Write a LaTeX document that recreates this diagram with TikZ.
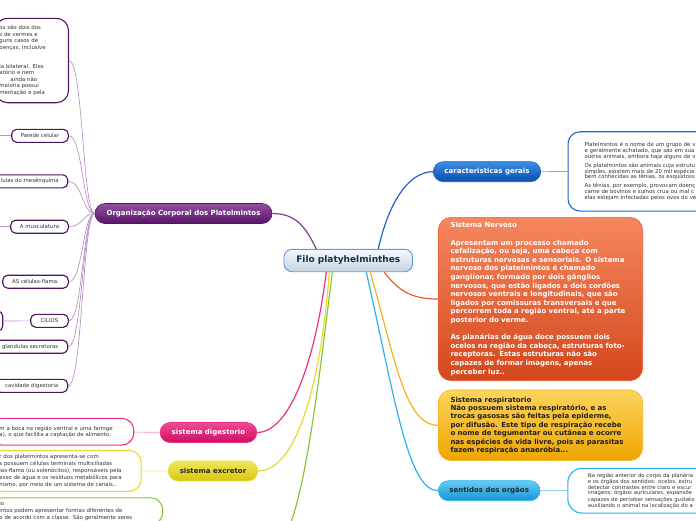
\documentclass[tikz,border=0pt]{standalone}
\usepackage{fontspec}
\setmainfont{DejaVu Sans}

\definecolor{purpdark}{HTML}{4E1460}
\definecolor{purptop}{HTML}{93519F}
\definecolor{purpbot}{HTML}{571468}
\definecolor{purplight}{HTML}{B894CB}
\definecolor{purpline}{HTML}{7B3F91}
\definecolor{filoborder}{HTML}{5A9AD8}
\definecolor{filotop}{HTML}{F7F9FB}
\definecolor{filobot}{HTML}{C5D3E0}
\definecolor{filotext}{HTML}{1A2C52}
\definecolor{bluetop}{HTML}{3C8EE6}
\definecolor{bluebot}{HTML}{0B4DAE}
\definecolor{blueline}{HTML}{1F63CF}
\definecolor{bluelight}{HTML}{7FA8E0}
\definecolor{orgtop}{HTML}{F5875F}
\definecolor{orgbot}{HTML}{D4471C}
\definecolor{orgline}{HTML}{EE5B30}
\definecolor{goldtop}{HTML}{FDD45C}
\definecolor{goldbot}{HTML}{EEA500}
\definecolor{goldline}{HTML}{F5B21C}
\definecolor{skytop}{HTML}{62CDF6}
\definecolor{skybot}{HTML}{1696D4}
\definecolor{skyline}{HTML}{2BB2EE}
\definecolor{skylight}{HTML}{8FD3F2}
\definecolor{pinktop}{HTML}{F04A98}
\definecolor{pinkbot}{HTML}{CF0F60}
\definecolor{pinkline}{HTML}{EE2F85}
\definecolor{pinklight}{HTML}{F48CB8}
\definecolor{yellowtop}{HTML}{F0E65A}
\definecolor{yellowbot}{HTML}{D9C60E}
\definecolor{yellowline}{HTML}{E9D92E}
\definecolor{yellowlight}{HTML}{F0E68A}
\definecolor{greenline}{HTML}{8CC43C}
\definecolor{notetext}{HTML}{333333}

\begin{document}
\begin{tikzpicture}[x=1pt,y=-1pt,
    root node/.style={draw=filoborder,line width=0.9pt,rounded corners=8pt,
      top color=filotop,bottom color=filobot,text=filotext,inner sep=0pt,
      font=\fontsize{9}{11}\selectfont\bfseries,minimum width=128.7pt,minimum height=22.4pt},
    main node/.style={rounded corners=10pt,minimum height=20pt,inner sep=0pt,line width=0.6pt,
      font=\fontsize{7}{8.6}\selectfont\bfseries},
    leaf node/.style={draw=purpdark,line width=1.1pt,fill=white,rounded corners=5pt,
      minimum height=13pt,inner ysep=0pt,inner xsep=3pt,text=notetext,
      font=\fontsize{5.4}{6.4}\selectfont},
    note node/.style={fill=white,line width=1.1pt,rounded corners=12pt,align=left,
      inner ysep=4pt,text=notetext,font=\fontsize{5.4}{6.4}\selectfont},
    twig/.style={draw=purplight,line width=0.7pt},
    branch/.style={line width=1.2pt}]
  \useasboundingbox (0,0) rectangle (696,520);
  \clip (0,0) rectangle (696,520);

  % central topic and main topics
  \node[root node] (filo) at (348.3,260.5) {Filo platyhelminthes};
  \node[main node,top color=purptop,bottom color=purpbot,draw=purpdark,text=white,
        minimum width=177pt] (org) at (183.5,213.5) {Organização Corporal dos Platelmintos};
  \node[main node,top color=bluetop,bottom color=bluebot,draw=blueline,text=white,
        minimum width=107.4pt] (gerais) at (487,171.7) {caracteristicas gerais};
  \node[main node,top color=pinktop,bottom color=pinkbot,draw=pinkline,text=white,
        minimum width=96.7pt] (digest) at (208.4,432.5) {sistema digestorio};
  \node[main node,top color=yellowtop,bottom color=yellowbot,draw=yellowline,text=black!85,
        minimum width=89.4pt] (excret) at (213,471) {sistema excretor};
  \node[main node,top color=skytop,bottom color=skybot,draw=skyline,text=black!85,
        minimum width=101.7pt] (sentidos) at (489.2,490.7) {sentidos dos orgãos};
  \coordinate (biotopic) at (270,550);

  % big coloured topics
  \node[main node,rounded corners=13pt,top color=orgtop,bottom color=orgbot,draw=orgline,
        text=white,text width=180pt,inner xsep=12.2pt,minimum height=163.4pt,align=left]
        (nervoso) at (540.5,299) {Sistema Nervoso\\[8.6pt]
    Apresentam um processo chamado\\
    cefalização, ou seja, uma cabeça com\\
    estruturas nervosas e sensoriais. O sistema\\
    nervoso dos platelmintos é chamado\\
    ganglionar, formado por dois gânglios\\
    nervosos, que estão ligados a dois cordões\\
    nervosos ventrais e longitudinais, que são\\
    ligados por comissuras transversais e que\\
    percorrem toda a região ventral, até a parte\\
    posterior do verme.\\[8.6pt]
    As planárias de água doce possuem dois\\
    ocelos na região da cabeça, estruturas foto-\\
    receptoras. Estas estruturas não são\\
    capazes de formar imagens, apenas\\
    perceber luz..};
  \node[main node,rounded corners=13pt,top color=goldtop,bottom color=goldbot,draw=goldline,
        text=black!88,text width=180pt,inner xsep=12.2pt,minimum height=70.7pt,align=left,
        font=\fontsize{7}{8.4}\selectfont\bfseries]
        (resp) at (540.5,425.3) {Sistema respiratorio\\
    Não possuem sistema respiratório, e as\\
    trocas gasosas são feitas pela epiderme,\\
    por difusão. Este tipo de respiração recebe\\
    o nome de tegumentar ou cutânea e ocorre\\
    nas espécies de vida livre, pois as parasitas\\
    fazem respiração anaeróbia...};

  % notes
  \node[note node,draw=blueline,anchor=west,text width=160pt,inner xsep=16.5pt,
        minimum height=79.3pt,font=\fontsize{5.4}{5.9}\selectfont]
        (geraisnote) at (567.5,171.4) {Platelmintos é o nome de um grupo de v\\
    e geralmente achatado, que são em sua\\
    outros animais, embora haja alguns de v\\[3pt]
    Os platelmintos são animais cuja estrutu\\
    simples, existem mais de 20 mil espécie\\
    bem conhecidas as tênias, os esquistoss\\[3pt]
    As tênias, por exemplo, provocam doenç\\
    carne de bovinos e suínos crua ou mal c\\
    elas estejam infectadas pelos ovos do ve};
  \node[note node,draw=skyline,anchor=west,text width=150pt,inner xsep=20pt,
        minimum height=44.7pt,rounded corners=14pt,font=\fontsize{5.3}{5.1}\selectfont]
        (sentidosnote) at (567.3,490.7) {Na região anterior do corpo da planária\\
    e os órgãos dos sentidos: ocelos, estru\\
    detectar contrastes entre claro e escur\\
    imagens; órgãos auriculares, expansõe\\
    capazes de perceber sensações gustato\\
    auxiliando o animal na localização do a};
  \node[note node,draw=pinkline,anchor=east,text width=124.3pt,inner xsep=10pt,
        minimum height=26.7pt]
        (digestnote) at (134.3,431.7) {m a boca na região ventral e uma faringe\\
    a), o que facilita a captação de alimento,};
  \node[note node,draw=yellowline,anchor=east,text width=131.7pt,inner xsep=10pt,
        minimum height=38.3pt,font=\fontsize{5.4}{6.9}\selectfont]
        (excretnote) at (141.7,470.9) {r dos platelmintos apresenta-se com\\
    s possuem células terminais multiciliadas\\
    ias-flama (ou solenócitos), responsáveis pela\\
    esso de água e os resíduos metabólicos para\\
    nismo, por meio de um sistema de canais..};
  \node[note node,draw=greenline,anchor=north east,text width=153.3pt,inner xsep=10pt,
        font=\fontsize{5.4}{6.7}\selectfont]
        (bionote) at (163.3,497.3) {io\\
    intos podem apresentar formas diferentes de\\
    o de acordo com a classe. São geralmente seres};

  % purple subtopics
  \node[note node,draw=purpdark,anchor=east,text width=65pt,inner xsep=4pt,
        minimum height=84.4pt,font=\fontsize{5.4}{6.5}\selectfont]
        (intro) at (69,60.5) {os são dois dos\\
    s de vermes e\\
    guns casos de\\
    oenças, inclusive\\[12.4pt]
    ia bilateral. Eles\\
    atório e nem\\
    \hspace*{11pt}ainda não\\
    maioria possui\\
    mentação e pela};
  \node[leaf node,minimum width=56.6pt] (parede) at (40,135.8) {Parede celular};
  \node[leaf node,anchor=east,inner xsep=9pt] (mesen) at (68.3,181.3) {lulas do mesênquima};
  \node[leaf node,minimum width=57.6pt] (muscul) at (39.5,226.7) {A musculatura};
  \node[leaf node,minimum width=65.6pt] (flama) at (35.5,281.7) {AS células-flama.};
  \node[leaf node,minimum width=37.6pt] (cilios) at (49.5,320.8) {CILIOS};
  \node[leaf node,anchor=east,inner xsep=9.6pt] (glandulas) at (68.3,346.7) {glandulas secretoras};
  \node[leaf node,anchor=east,inner xsep=9.6pt] (cavidade) at (68.3,385.8) {cavidade digestoria};
  \node[leaf node,anchor=east,minimum width=40pt,minimum height=20pt] (ciliosleaf) at (3.3,321) {};
  \coordinate (paredeout) at (-12,135.8);
  \coordinate (musculout) at (-12,226.7);

  % connectors
  \foreach \leaf in {intro,parede,mesen,muscul,flama,cilios,glandulas,cavidade}
    \draw[twig] (\leaf.east) .. controls +(14,0) and +(-12,0) .. (org.west);
  \path[twig]
    (parede) edge (paredeout)
    (muscul) edge (musculout)
    (ciliosleaf) edge (cilios);
  \path[twig]
    (gerais) edge[draw=bluelight] (geraisnote)
    (sentidos) edge[draw=skylight] (sentidosnote)
    (digest) edge[draw=pinklight] (digestnote)
    (excret) edge[draw=yellowlight] (excretnote);

  \draw[branch,draw=purpline] (org.east) .. controls +(25,0) and +(-10,-20) .. ([xshift=-32pt]filo.north);
  \draw[branch,draw=blueline] ([xshift=30pt]filo.north) .. controls +(10,-45) and +(-25,0) .. (gerais.west);
  \draw[branch,draw=orgline] ([xshift=36pt]filo.south) .. controls +(15,20) and +(-25,0) .. (nervoso.west);
  \draw[branch,draw=goldline] ([xshift=22pt]filo.south) .. controls +(25,88) and +(-33,0) .. (resp.west);
  \draw[branch,draw=skyline] ([xshift=18pt]filo.south) .. controls +(29,128) and +(-30,0) .. (sentidos.west);
  \draw[branch,draw=pinkline] ([xshift=-22pt]filo.south) .. controls +(-11,88) and +(33,0) .. (digest.east);
  \draw[branch,draw=yellowline] ([xshift=-19pt]filo.south) .. controls +(-9,118) and +(37,0) .. (excret.east);
  \draw[branch,draw=greenline] ([xshift=-16pt]filo.south) .. controls +(-16,128) and +(30,0) .. (biotopic);
\end{tikzpicture}
\end{document}
